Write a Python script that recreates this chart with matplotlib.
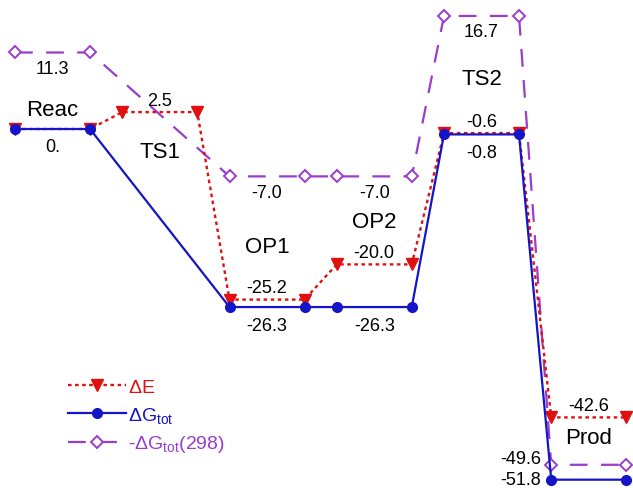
import matplotlib
matplotlib.use('Agg')
import matplotlib.pyplot as plt

plt.rcParams['font.family'] = ['Liberation Sans', 'DejaVu Sans']
plt.rcParams['mathtext.fontset'] = 'custom'
plt.rcParams['mathtext.rm'] = 'Liberation Sans'
plt.rcParams['mathtext.it'] = 'Liberation Sans'

states = ['Reac', 'TS1', 'OP1', 'OP2', 'TS2', 'Prod']
dE = [0.0, 2.5, -25.2, -20.0, -0.6, -42.6]
dG = [0.0, None, -26.3, -26.3, -0.8, -51.8]
dG298 = [11.3, None, -7.0, -7.0, 16.7, -49.6]

# where each state name sits (energy units)
name_y = [2.95, -3.25, -17.3, -13.6, 7.4, -45.6]

red = '#e01010'
blue = '#1414c8'
purple = '#9a3ccc'

step = 1.43
width = 1.0


def profile(values):
    xs, ys = [], []
    for i, v in enumerate(values):
        if v is None:
            continue
        xs += [i * step, i * step + width]
        ys += [v, v]
    return xs, ys


fig = plt.figure(figsize=(6.33, 4.89), dpi=100)
ax = fig.add_axes([0, 0, 1, 1])

x, y = profile(dG298)
ax.plot(x, y, color=purple, lw=1.6, dashes=(8, 6), marker='D', ms=6,
        mfc='white', mec=purple, mew=1.4, label=r'-$\Delta$G$_{\rm tot}$(298)',
        zorder=2)
x, y = profile(dE)
ax.plot(x, y, color=red, lw=1.7, ls=(0, (1.5, 1.5)), marker='v', ms=8,
        label=r'$\Delta$E', zorder=3)
x, y = profile(dG)
ax.plot(x, y, color=blue, lw=1.6, marker='o', ms=7, label=r'$\Delta$G$_{\rm tot}$',
        zorder=4)

def fmt(v):
    return '0.' if v == 0 else f'{v:.1f}'

for i, v in enumerate(dE):
    if i == 0:
        continue
    ax.annotate(fmt(v), (i * step + width / 2, v), xytext=(0, 12),
                textcoords='offset pixels', ha='center', va='center', fontsize=13)
for i, v in enumerate(dG):
    if v is None:
        continue
    if i == 5:
        ax.annotate(fmt(v), (i * step, v), xytext=(-10, 0),
                    textcoords='offset pixels', ha='right', va='center', fontsize=13)
    else:
        ax.annotate(fmt(v), (i * step + width / 2, v), xytext=(0, -18),
                    textcoords='offset pixels', ha='center', va='center', fontsize=13)
for i, v in enumerate(dG298):
    if v is None:
        continue
    if i == 5:
        ax.annotate(fmt(v), (i * step, v), xytext=(-10, 6),
                    textcoords='offset pixels', ha='right', va='center', fontsize=13)
    else:
        ax.annotate(fmt(v), (i * step + width / 2, v), xytext=(0, -16),
                    textcoords='offset pixels', ha='center', va='center', fontsize=13)

for i, (s, ny) in enumerate(zip(states, name_y)):
    ax.text(i * step + width / 2, ny, s, ha='center', va='center', fontsize=16)

handles, labels = ax.get_legend_handles_labels()
order = [1, 2, 0]
leg = ax.legend([handles[k] for k in order], [labels[k] for k in order],
                loc='upper left', bbox_to_anchor=(0.08, 0.26), frameon=False,
                fontsize=14, handlelength=3.0, handletextpad=0.1,
                labelspacing=0.45)
for t, c in zip(leg.get_texts(), [red, blue, purple]):
    t.set_color(c)

ax.set_xlim(-0.2, 633 / 75 - 0.2)
ax.set_ylim(-359 / 6.77, 130 / 6.77)
ax.axis('off')

fig.savefig('out.png', dpi=100)
